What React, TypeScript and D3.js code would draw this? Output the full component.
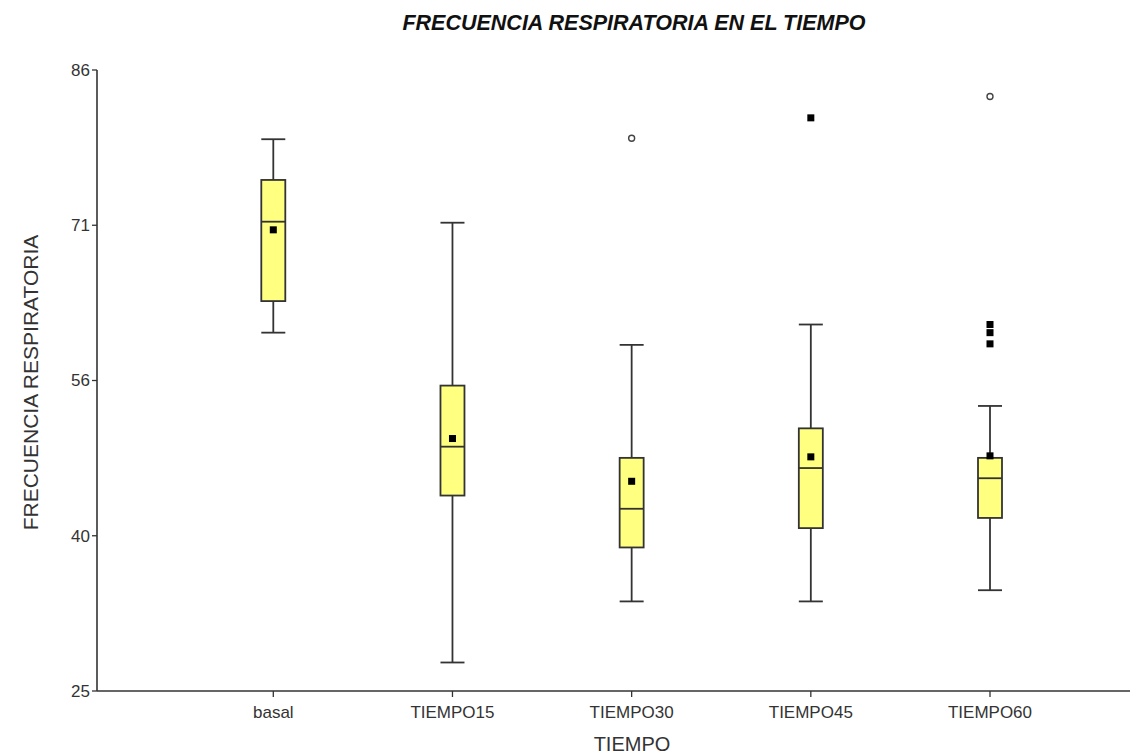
import React from "react";
import * as d3 from "d3";

// datos
const categories = ["basal", "TIEMPO15", "TIEMPO30", "TIEMPO45", "TIEMPO60"];
const whiskerLow = [60.2, 27.8, 33.8, 33.8, 34.9];
const q1 = [63.3, 44.2, 39.1, 41.0, 42.0];
const medians = [71.1, 49.0, 42.9, 46.9, 45.9];
const q3 = [75.2, 55.0, 47.9, 50.8, 47.9];
const whiskerHigh = [79.2, 71.0, 59.0, 61.0, 53.0];
const means = [70.3, 49.8, 45.6, 48.0, 48.1];
// outliers: [categoria, valor]
const nearOutliers: [string, number][] = [
  ["TIEMPO45", 81.3],
  ["TIEMPO60", 61.0],
  ["TIEMPO60", 60.2],
  ["TIEMPO60", 59.1],
];
const farOutliers: [string, number][] = [
  ["TIEMPO30", 79.3],
  ["TIEMPO60", 83.4],
];
const yMin = 25;
const yMax = 86;
const yTickCount = 5;

const W = 1134;
const H = 755;
const axisX = 97;
const axisRight = 1130;
const plotTop = 70;
const plotBottom = 691;
const boxW = 24;
const font = "'Liberation Sans', Arial, sans-serif";

export default function App() {
  const y = d3.scaleLinear().domain([yMin, yMax]).range([plotBottom, plotTop]);
  const x = d3.scalePoint<string>().domain(categories).range([273.3, 990]);
  const yTicks = d3.range(yTickCount).map((i) => yMin + (i * (yMax - yMin)) / (yTickCount - 1));

  return (
    <div style={{ position: "absolute", left: 0, top: 0 }}>
      <svg width={W} height={H} style={{ display: "block", background: "#fff" }}>
        <text x={634} y={30} textAnchor="middle" fontFamily={font} fontSize={21.5} fontWeight="bold" fontStyle="italic" fill="#111">
          FRECUENCIA RESPIRATORIA EN EL TIEMPO
        </text>

        {/* eje y */}
        <line x1={axisX} x2={axisX} y1={plotTop} y2={plotBottom} stroke="#333" strokeWidth={1.6} />
        {yTicks.map((t) => (
          <g key={t}>
            <line x1={axisX - 5} x2={axisX} y1={y(t)} y2={y(t)} stroke="#333" strokeWidth={1.3} />
            <text x={axisX - 7} y={y(t)} dy="0.35em" textAnchor="end" fontFamily={font} fontSize={17} fill="#333">
              {Math.round(t)}
            </text>
          </g>
        ))}
        <text transform={`translate(38,${(plotTop + plotBottom) / 2 + 2}) rotate(-90)`} textAnchor="middle" fontFamily={font} fontSize={21} fill="#333">
          FRECUENCIA RESPIRATORIA
        </text>

        {/* eje x */}
        <line x1={axisX} x2={axisRight} y1={plotBottom} y2={plotBottom} stroke="#333" strokeWidth={1.6} />
        {categories.map((c) => (
          <g key={c}>
            <line x1={x(c)} x2={x(c)} y1={plotBottom} y2={plotBottom + 6} stroke="#333" strokeWidth={1.3} />
            <text x={x(c)} y={plotBottom + 27} textAnchor="middle" fontFamily={font} fontSize={17} fill="#333">
              {c}
            </text>
          </g>
        ))}
        <text x={632} y={751} textAnchor="middle" fontFamily={font} fontSize={20} fill="#333">
          TIEMPO
        </text>

        {/* cajas */}
        {categories.map((c, i) => {
          const cx = x(c) as number;
          return (
            <g key={c} stroke="#333" strokeWidth={1.8}>
              <line x1={cx} x2={cx} y1={y(whiskerHigh[i])} y2={y(q3[i])} />
              <line x1={cx} x2={cx} y1={y(q1[i])} y2={y(whiskerLow[i])} />
              <line x1={cx - boxW / 2} x2={cx + boxW / 2} y1={y(whiskerHigh[i])} y2={y(whiskerHigh[i])} />
              <line x1={cx - boxW / 2} x2={cx + boxW / 2} y1={y(whiskerLow[i])} y2={y(whiskerLow[i])} />
              <rect x={cx - boxW / 2} y={y(q3[i])} width={boxW} height={y(q1[i]) - y(q3[i])} fill="#ffff80" />
              <line x1={cx - boxW / 2} x2={cx + boxW / 2} y1={y(medians[i])} y2={y(medians[i])} />
              <rect x={cx - 3.5} y={y(means[i]) - 3.5} width={7} height={7} fill="#000" stroke="none" />
            </g>
          );
        })}

        {nearOutliers.map(([c, v], i) => (
          <rect key={"n" + i} x={(x(c) as number) - 3.5} y={y(v) - 3.5} width={7} height={7} fill="#000" />
        ))}
        {farOutliers.map(([c, v], i) => (
          <circle key={"f" + i} cx={x(c) as number} cy={y(v)} r={3} fill="#fff" stroke="#444" strokeWidth={1.4} />
        ))}
      </svg>
    </div>
  );
}
